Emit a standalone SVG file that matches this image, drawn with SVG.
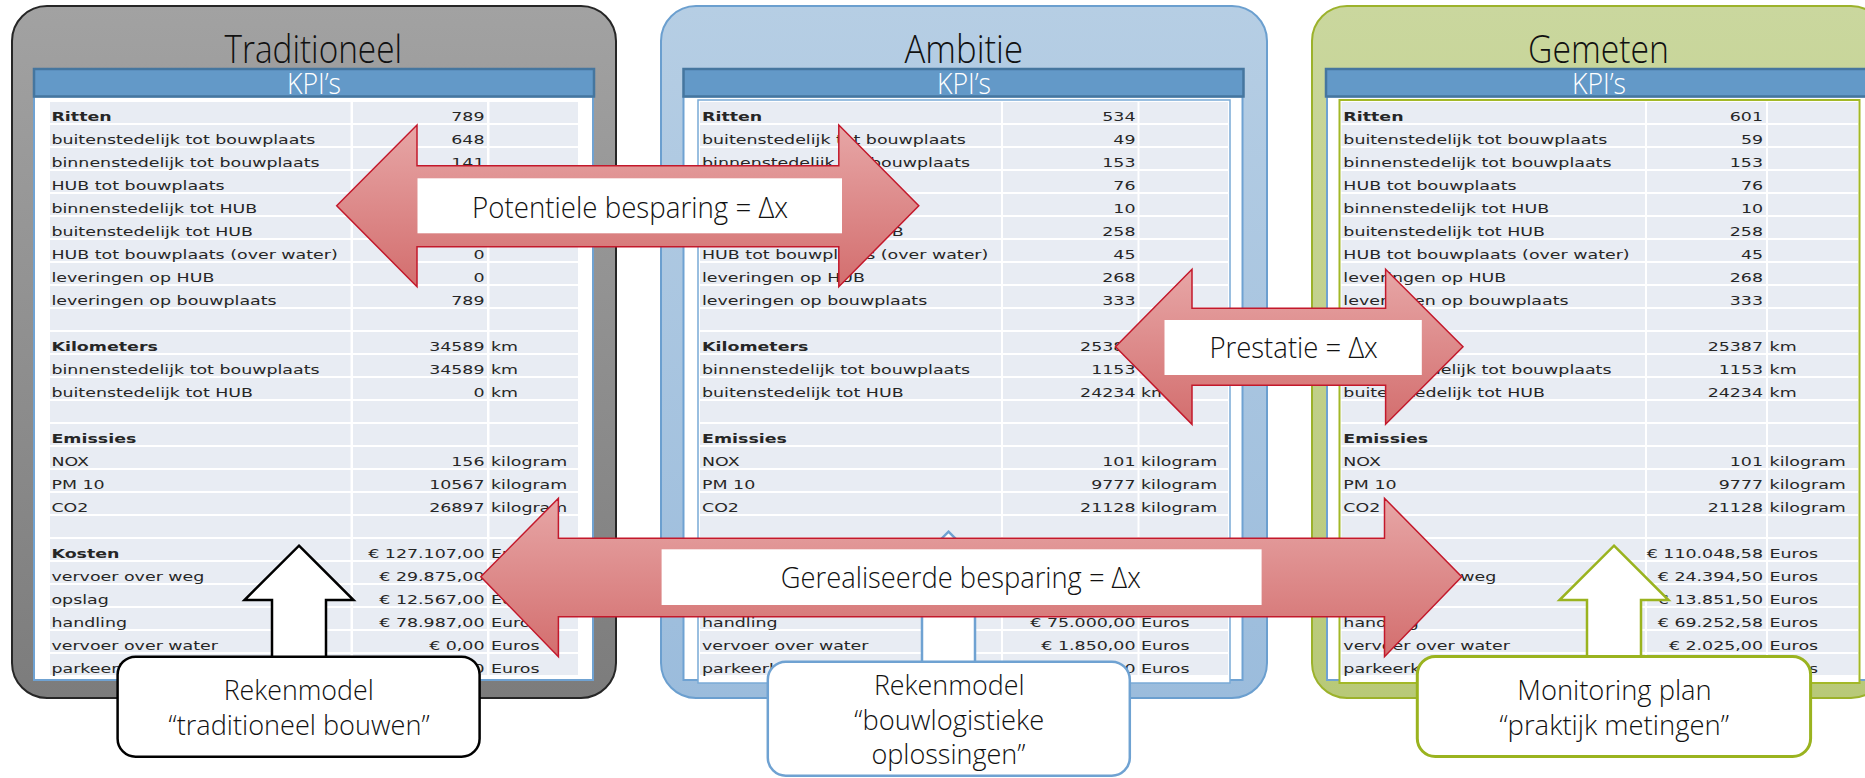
<svg xmlns="http://www.w3.org/2000/svg" width="1865" height="778" viewBox="0 0 1865 778">
<defs>
<style>
.ttl{font-family:"Open Sans","Noto Sans",sans-serif;font-weight:300;font-size:38px;fill:#111}
.kpi{font-family:"Open Sans","Noto Sans",sans-serif;font-weight:300;font-size:29px;fill:#fff}
.big{font-family:"Open Sans","Noto Sans",sans-serif;font-weight:300;font-size:30px;fill:#111}
.box{font-family:"Open Sans","Noto Sans",sans-serif;font-weight:300;font-size:28px;fill:#111}
.bar{fill:#6399c8;stroke:#45769f;stroke-width:2.5}
.sheet{fill:#fff;stroke:#6fa2d2;stroke-width:2}
.col{fill:url(#rows)}
.t{font-family:"DejaVu Sans",Verdana,sans-serif;font-size:13px;fill:#262626}
.b{font-weight:bold}
.v{text-anchor:end}
.red{fill:url(#gRed);stroke:#c3182b;stroke-width:1.5}
.lblbox{fill:#fff}
.up{fill:#fff;stroke-width:2.5}
</style>
<pattern id="rows" patternUnits="userSpaceOnUse" x="0" y="102" width="1900" height="23">
<rect x="0" y="0" width="1900" height="21" fill="#e8ecf3"/>
</pattern>
<linearGradient id="gGray" x1="0" y1="0" x2="0" y2="1"><stop offset="0" stop-color="#a2a2a2"/><stop offset="1" stop-color="#7c7c7c"/></linearGradient>
<linearGradient id="gBlue" x1="0" y1="0" x2="0" y2="1"><stop offset="0" stop-color="#b6cee4"/><stop offset="1" stop-color="#9bbcdc"/></linearGradient>
<linearGradient id="gGreen" x1="0" y1="0" x2="0" y2="1"><stop offset="0" stop-color="#cad79e"/><stop offset="1" stop-color="#b8c978"/></linearGradient>
<linearGradient id="gRed" x1="0" y1="0" x2="0" y2="1"><stop offset="0" stop-color="#e7a6a6"/><stop offset="1" stop-color="#d36e6e"/></linearGradient>
</defs>

<g id="panel-traditioneel">
<rect x="12" y="6" width="604" height="692" rx="35" fill="url(#gGray)" stroke="#262626" stroke-width="2"/>
<text class="ttl" x="224.5" y="63" textLength="177.5" lengthAdjust="spacingAndGlyphs">Traditioneel</text>
<rect class="sheet" x="34" y="96.5" width="559" height="583.5"/>
<rect class="bar" x="34" y="69" width="560" height="27.5"/>
<text class="kpi" x="287" y="94" textLength="54" lengthAdjust="spacingAndGlyphs">KPI’s</text>
<rect class="col" x="50" y="102" width="300.5" height="573"/>
<rect class="col" x="353" y="102" width="134" height="573"/>
<rect class="col" x="489.5" y="102" width="88.5" height="573"/>
<g class="t" transform="scale(1.34,1)">
<text x="38.4" y="121" class="b">Ritten</text><text x="361.6" y="121" class="v">789</text>
<text x="38.4" y="144">buitenstedelijk tot bouwplaats</text><text x="361.6" y="144" class="v">648</text>
<text x="38.4" y="167">binnenstedelijk tot bouwplaats</text><text x="361.6" y="167" class="v">141</text>
<text x="38.4" y="190">HUB tot bouwplaats</text>
<text x="38.4" y="213">binnenstedelijk tot HUB</text>
<text x="38.4" y="236">buitenstedelijk tot HUB</text>
<text x="38.4" y="259">HUB tot bouwplaats (over water)</text><text x="361.6" y="259" class="v">0</text>
<text x="38.4" y="282">leveringen op HUB</text><text x="361.6" y="282" class="v">0</text>
<text x="38.4" y="305">leveringen op bouwplaats</text><text x="361.6" y="305" class="v">789</text>
<text x="38.4" y="351" class="b">Kilometers</text><text x="361.6" y="351" class="v">34589</text><text x="366.4" y="351">km</text>
<text x="38.4" y="374">binnenstedelijk tot bouwplaats</text><text x="361.6" y="374" class="v">34589</text><text x="366.4" y="374">km</text>
<text x="38.4" y="397">buitenstedelijk tot HUB</text><text x="361.6" y="397" class="v">0</text><text x="366.4" y="397">km</text>
<text x="38.4" y="443" class="b">Emissies</text>
<text x="38.4" y="466">NOX</text><text x="361.6" y="466" class="v">156</text><text x="366.4" y="466">kilogram</text>
<text x="38.4" y="489">PM 10</text><text x="361.6" y="489" class="v">10567</text><text x="366.4" y="489">kilogram</text>
<text x="38.4" y="512">CO2</text><text x="361.6" y="512" class="v">26897</text><text x="366.4" y="512">kilogram</text>
<text x="38.4" y="558" class="b">Kosten</text><text x="361.6" y="558" class="v">€ 127.107,00</text><text x="366.4" y="558">Euros</text>
<text x="38.4" y="581">vervoer over weg</text><text x="361.6" y="581" class="v">€ 29.875,00</text>
<text x="38.4" y="604">opslag</text><text x="361.6" y="604" class="v">€ 12.567,00</text><text x="366.4" y="604">Euros</text>
<text x="38.4" y="627">handling</text><text x="361.6" y="627" class="v">€ 78.987,00</text><text x="366.4" y="627">Euros</text>
<text x="38.4" y="650">vervoer over water</text><text x="361.6" y="650" class="v">€ 0,00</text><text x="366.4" y="650">Euros</text>
<text x="38.4" y="673">parkeerkosten</text><text x="361.6" y="673" class="v">€ 5.678,00</text><text x="366.4" y="673">Euros</text>
</g>
</g>

<g id="panel-ambitie">
<rect x="661" y="6" width="606" height="692" rx="35" fill="url(#gBlue)" stroke="#6b9fcf" stroke-width="2"/>
<text class="ttl" x="904.5" y="63" textLength="118.5" lengthAdjust="spacingAndGlyphs">Ambitie</text>
<rect class="sheet" x="683.5" y="96.5" width="559" height="583.5"/>
<rect class="bar" x="683.5" y="69" width="560" height="27.5"/>
<text class="kpi" x="937" y="94" textLength="54" lengthAdjust="spacingAndGlyphs">KPI’s</text>
<rect x="698" y="100" width="532" height="583" fill="#fff" stroke="#7aaad6" stroke-width="1.5"/>
<rect class="col" x="700" y="102" width="301" height="573"/>
<rect class="col" x="1003" y="102" width="134.5" height="573"/>
<rect class="col" x="1139.5" y="102" width="88.5" height="573"/>
<g class="t" transform="scale(1.34,1)">
<text x="523.9" y="121" class="b">Ritten</text><text x="847.4" y="121" class="v">534</text>
<text x="523.9" y="144">buitenstedelijk tot bouwplaats</text><text x="847.4" y="144" class="v">49</text>
<text x="523.9" y="167">binnenstedelijk tot bouwplaats</text><text x="847.4" y="167" class="v">153</text>
<text x="847.4" y="190" class="v">76</text>
<text x="847.4" y="213" class="v">10</text>
<text x="523.9" y="236">buitenstedelijk tot HUB</text><text x="847.4" y="236" class="v">258</text>
<text x="523.9" y="259">HUB tot bouwplaats (over water)</text><text x="847.4" y="259" class="v">45</text>
<text x="523.9" y="282">leveringen op HUB</text><text x="847.4" y="282" class="v">268</text>
<text x="523.9" y="305">leveringen op bouwplaats</text><text x="847.4" y="305" class="v">333</text>
<text x="523.9" y="351" class="b">Kilometers</text><text x="847.4" y="351" class="v">25387</text>
<text x="523.9" y="374">binnenstedelijk tot bouwplaats</text><text x="847.4" y="374" class="v">1153</text>
<text x="523.9" y="397">buitenstedelijk tot HUB</text><text x="847.4" y="397" class="v">24234</text><text x="851.5" y="397">km</text>
<text x="523.9" y="443" class="b">Emissies</text>
<text x="523.9" y="466">NOX</text><text x="847.4" y="466" class="v">101</text><text x="851.5" y="466">kilogram</text>
<text x="523.9" y="489">PM 10</text><text x="847.4" y="489" class="v">9777</text><text x="851.5" y="489">kilogram</text>
<text x="523.9" y="512">CO2</text><text x="847.4" y="512" class="v">21128</text><text x="851.5" y="512">kilogram</text>
<text x="523.9" y="627">handling</text><text x="847.4" y="627" class="v">€ 75.000,00</text><text x="851.5" y="627">Euros</text>
<text x="523.9" y="650">vervoer over water</text><text x="847.4" y="650" class="v">€ 1.850,00</text><text x="851.5" y="650">Euros</text>
<text x="523.9" y="673">parkeerkosten</text><text x="847.4" y="673" class="v">€ 0,00</text><text x="851.5" y="673">Euros</text>
</g>
</g>

<g id="panel-gemeten">
<rect x="1312" y="6" width="574" height="692" rx="35" fill="url(#gGreen)" stroke="#9cb22b" stroke-width="2"/>
<text class="ttl" x="1528" y="63" textLength="141" lengthAdjust="spacingAndGlyphs">Gemeten</text>
<rect class="sheet" x="1327" y="96.5" width="544" height="583.5"/>
<rect class="bar" x="1326" y="69" width="546" height="27.5"/>
<text class="kpi" x="1572" y="94" textLength="54" lengthAdjust="spacingAndGlyphs">KPI’s</text>
<rect x="1339.5" y="100" width="520" height="583" fill="#fff" stroke="#a3b827" stroke-width="2"/>
<rect class="col" x="1341.5" y="102" width="303.5" height="573"/>
<rect class="col" x="1647" y="102" width="119" height="573"/>
<rect class="col" x="1768" y="102" width="90" height="573"/>
<g class="t" transform="scale(1.34,1)">
<text x="1002.5" y="121" class="b">Ritten</text><text x="1315.7" y="121" class="v">601</text>
<text x="1002.5" y="144">buitenstedelijk tot bouwplaats</text><text x="1315.7" y="144" class="v">59</text>
<text x="1002.5" y="167">binnenstedelijk tot bouwplaats</text><text x="1315.7" y="167" class="v">153</text>
<text x="1002.5" y="190">HUB tot bouwplaats</text><text x="1315.7" y="190" class="v">76</text>
<text x="1002.5" y="213">binnenstedelijk tot HUB</text><text x="1315.7" y="213" class="v">10</text>
<text x="1002.5" y="236">buitenstedelijk tot HUB</text><text x="1315.7" y="236" class="v">258</text>
<text x="1002.5" y="259">HUB tot bouwplaats (over water)</text><text x="1315.7" y="259" class="v">45</text>
<text x="1002.5" y="282">leveringen op HUB</text><text x="1315.7" y="282" class="v">268</text>
<text x="1002.5" y="305">leveringen op bouwplaats</text><text x="1315.7" y="305" class="v">333</text>
<text x="1315.7" y="351" class="v">25387</text><text x="1320.6" y="351">km</text>
<text x="1002.5" y="374">binnenstedelijk tot bouwplaats</text><text x="1315.7" y="374" class="v">1153</text><text x="1320.6" y="374">km</text>
<text x="1002.5" y="397">buitenstedelijk tot HUB</text><text x="1315.7" y="397" class="v">24234</text><text x="1320.6" y="397">km</text>
<text x="1002.5" y="443" class="b">Emissies</text>
<text x="1002.5" y="466">NOX</text><text x="1315.7" y="466" class="v">101</text><text x="1320.6" y="466">kilogram</text>
<text x="1002.5" y="489">PM 10</text><text x="1315.7" y="489" class="v">9777</text><text x="1320.6" y="489">kilogram</text>
<text x="1002.5" y="512">CO2</text><text x="1315.7" y="512" class="v">21128</text><text x="1320.6" y="512">kilogram</text>
<text x="1315.7" y="558" class="v">€ 110.048,58</text><text x="1320.6" y="558">Euros</text>
<text x="1002.5" y="581">vervoer over weg</text><text x="1315.7" y="581" class="v">€ 24.394,50</text><text x="1320.6" y="581">Euros</text>
<text x="1315.7" y="604" class="v">€ 13.851,50</text><text x="1320.6" y="604">Euros</text>
<text x="1002.5" y="627">handling</text><text x="1315.7" y="627" class="v">€ 69.252,58</text><text x="1320.6" y="627">Euros</text>
<text x="1002.5" y="650">vervoer over water</text><text x="1315.7" y="650" class="v">€ 2.025,00</text><text x="1320.6" y="650">Euros</text>
<text x="1002.5" y="673">parkeerkosten</text><text x="1320.6" y="673">Euros</text>
</g>
</g>

<g id="connectors">
<path class="up" stroke="#000" d="M299,545.7 L353.5,600 L326,600 L326,658 L272,658 L272,600 L244.5,600 Z"/>
<path class="up" stroke="#6fa2d2" d="M948.5,531.7 L1003,586.2 L975,586.2 L975,663 L922,663 L922,586.2 L894,586.2 Z"/>
<path class="up" stroke="#9ab31f" d="M1614,545.7 L1668.5,600 L1641,600 L1641,658 L1587,658 L1587,600 L1559.5,600 Z"/>
<g id="arrow-potentiele">
<path class="red" d="M336.7,205.7 L417,125 L417,165.7 L838.8,165.7 L838.8,125 L918.8,205.7 L838.8,286.7 L838.8,246.7 L417,246.7 L417,286.7 Z"/>
<rect class="lblbox" x="417.5" y="178.3" width="424.5" height="55"/>
<text class="big" x="472" y="218" textLength="316" lengthAdjust="spacingAndGlyphs">Potentiele besparing = Δx</text>
</g>
<g id="arrow-prestatie">
<path class="red" d="M1115.5,346.8 L1192,269.3 L1192,308.3 L1385.6,308.3 L1385.6,269.3 L1463,346.8 L1385.6,424.3 L1385.6,385.3 L1192,385.3 L1192,424.3 Z"/>
<rect class="lblbox" x="1164.5" y="320" width="257.3" height="55"/>
<text class="big" x="1209.4" y="358" font-size="29" textLength="168.4" lengthAdjust="spacingAndGlyphs">Prestatie = Δx</text>
</g>
<g id="arrow-gerealiseerde">
<path class="red" d="M480.8,576.7 L558.4,498.3 L558.4,538.3 L1384.5,538.3 L1384.5,498.3 L1461.7,576.7 L1384.5,656.7 L1384.5,616.7 L558.4,616.7 L558.4,656.7 Z"/>
<rect class="lblbox" x="661.6" y="549.3" width="600" height="55.7"/>
<text class="big" x="780.8" y="588" font-size="29" textLength="360" lengthAdjust="spacingAndGlyphs">Gerealiseerde besparing = Δx</text>
</g>
</g>

<g id="box-traditioneel">
<rect x="117.6" y="656.7" width="362" height="100" rx="18" fill="#fff" stroke="#000" stroke-width="2.5"/>
<text class="box" x="223.7" y="700" textLength="150" lengthAdjust="spacingAndGlyphs">Rekenmodel</text>
<text class="box" x="168.6" y="735" textLength="261" lengthAdjust="spacingAndGlyphs">“traditioneel bouwen”</text>
</g>
<g id="box-bouwlogistiek">
<rect x="767.8" y="661.7" width="362" height="114" rx="18" fill="#fff" stroke="#6fa2d2" stroke-width="2.5"/>
<text class="box" x="873.9" y="695" textLength="150.6" lengthAdjust="spacingAndGlyphs">Rekenmodel</text>
<text class="box" x="854.3" y="730" textLength="190" lengthAdjust="spacingAndGlyphs">“bouwlogistieke</text>
<text class="box" x="871.4" y="764" textLength="154" lengthAdjust="spacingAndGlyphs">oplossingen”</text>
</g>
<g id="box-monitoring">
<rect x="1417.3" y="656.5" width="393.3" height="100" rx="18" fill="#fff" stroke="#9ab31f" stroke-width="3"/>
<text class="box" x="1517.3" y="700" textLength="194.4" lengthAdjust="spacingAndGlyphs">Monitoring plan</text>
<text class="box" x="1499.4" y="735" textLength="229.5" lengthAdjust="spacingAndGlyphs">“praktijk metingen”</text>
</g>
</svg>
